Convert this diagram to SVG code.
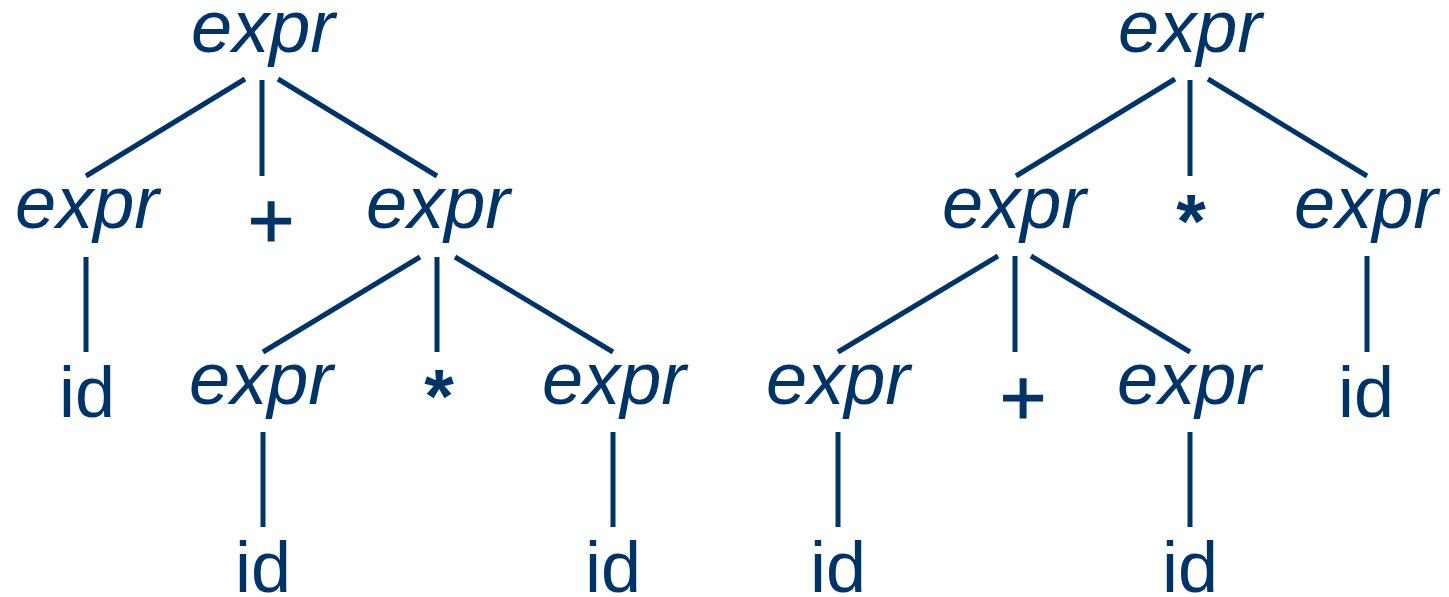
<svg xmlns="http://www.w3.org/2000/svg" width="1449" height="597" viewBox="0 0 1449 597">
<style>
.nt{font-family:"Liberation Sans",Arial,sans-serif;font-style:italic;font-size:74px;fill:#003366;text-anchor:middle}
.t{font-family:"Liberation Sans",Arial,sans-serif;font-size:72px;fill:#003366;text-anchor:middle}
.op{font-family:"Liberation Sans",Arial,sans-serif;font-size:80px;fill:#003366;stroke:#003366;stroke-width:1.2px;text-anchor:middle}
.st{font-family:"Liberation Sans",Arial,sans-serif;font-weight:bold;font-size:76px;fill:#003366;text-anchor:middle}
.e line{stroke:#003366;stroke-width:5;stroke-linecap:butt}
</style>
<rect width="1449" height="597" fill="#ffffff"/>
<g id="connectors" class="e">
<line x1="245" y1="79" x2="86" y2="176"/>
<line x1="262" y1="80" x2="262" y2="176"/>
<line x1="278" y1="79" x2="437" y2="176"/>
<line x1="86" y1="257" x2="86" y2="352"/>
<line x1="420" y1="257" x2="263" y2="352"/>
<line x1="437" y1="257" x2="437" y2="352"/>
<line x1="455" y1="257" x2="613" y2="352"/>
<line x1="263" y1="432" x2="263" y2="527"/>
<line x1="613" y1="432" x2="613" y2="527"/>
<line x1="1175" y1="79" x2="1016" y2="176"/>
<line x1="1190" y1="80" x2="1190" y2="176"/>
<line x1="1208" y1="79" x2="1367" y2="176"/>
<line x1="998" y1="256" x2="838" y2="352"/>
<line x1="1015" y1="256" x2="1015" y2="352"/>
<line x1="1031" y1="256" x2="1190" y2="352"/>
<line x1="1367" y1="256" x2="1367" y2="352"/>
<line x1="838" y1="432" x2="838" y2="527"/>
<line x1="1190" y1="432" x2="1190" y2="527"/>
</g>
<g id="L_root"><text class="nt" x="263" y="52">expr</text></g>
<g id="L_e1"><text class="nt" x="87" y="228">expr</text></g>
<g id="L_plus"><text class="op" x="271" y="248">+</text></g>
<g id="L_e2"><text class="nt" x="438" y="228">expr</text></g>
<g id="L_id1"><text class="t" x="87" y="417">id</text></g>
<g id="L_e3"><text class="nt" x="261" y="404">expr</text></g>
<g id="L_star"><text class="st" x="439" y="422">*</text></g>
<g id="L_e4"><text class="nt" x="614" y="404">expr</text></g>
<g id="L_id2"><text class="t" x="263" y="592">id</text></g>
<g id="L_id3"><text class="t" x="613" y="592">id</text></g>
<g id="R_root"><text class="nt" x="1190" y="52">expr</text></g>
<g id="R_e1"><text class="nt" x="1014" y="228">expr</text></g>
<g id="R_star"><text class="st" x="1191" y="247">*</text></g>
<g id="R_e2"><text class="nt" x="1366" y="228">expr</text></g>
<g id="R_e3"><text class="nt" x="838" y="404">expr</text></g>
<g id="R_plus"><text class="op" x="1023" y="425">+</text></g>
<g id="R_e4"><text class="nt" x="1189" y="404">expr</text></g>
<g id="R_id1"><text class="t" x="1366" y="417">id</text></g>
<g id="R_id2"><text class="t" x="838" y="592">id</text></g>
<g id="R_id3"><text class="t" x="1190" y="592">id</text></g>
</svg>
